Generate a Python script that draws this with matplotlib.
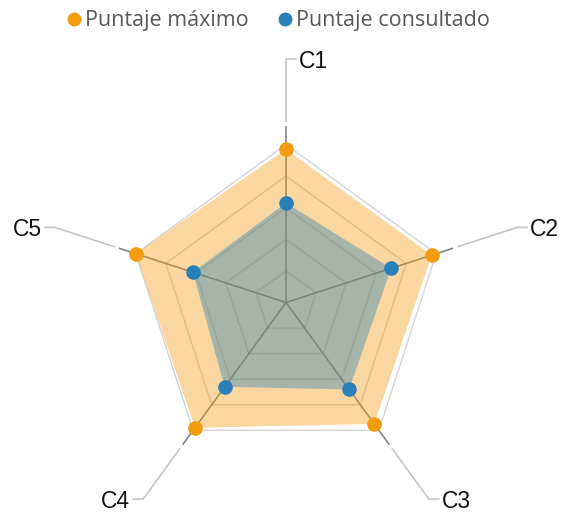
import numpy as np
import matplotlib
matplotlib.use("Agg")
import matplotlib.pyplot as plt
from matplotlib.lines import Line2D

categorias = ["C1", "C2", "C3", "C4", "C5"]
puntaje_maximo = [97, 97, 95, 98, 100]
puntaje_consultado = [63, 70, 68, 66, 62]
niveles = [20, 40, 60, 80, 100]
series = ["Puntaje máximo", "Puntaje consultado"]

NARANJA = "#f39c12"
AZUL = "#2980b9"


def _xy(valores, angulos):
    valores = np.asarray(valores, dtype=float)
    return valores * np.cos(angulos), valores * np.sin(angulos)


def radar(path="out.png"):
    figure = plt.figure(figsize=(5.64, 5.14), dpi=100)
    ax = figure.add_axes([0, 0, 1, 1])
    ax.set_axis_off()

    # pixel layout: centre at (286, 302.5), 1.58 px per unit
    escala = 1.58
    ax.set_xlim(-286 / escala, (564 - 286) / escala)
    ax.set_ylim(-(514 - 302.5) / escala, 302.5 / escala)
    ax.set_aspect("equal", adjustable="datalim")

    n = len(categorias)
    angulos = np.deg2rad(90 - 360.0 / n * np.arange(n))
    cerrado = np.append(angulos, angulos[0])

    for nivel in niveles:
        x, y = _xy([nivel] * (n + 1), cerrado)
        ax.plot(x, y, color="#d4d4d4", linewidth=1.0, zorder=1)

    fin_eje = niveles[-1] * 1.108
    for ang in angulos:
        x, y = _xy([0, fin_eje], ang)
        ax.plot(x, y, color="#858585", linewidth=1.2, zorder=2)

    for valores, color in ((puntaje_maximo, NARANJA), (puntaje_consultado, AZUL)):
        x, y = _xy(list(valores) + [valores[0]], cerrado)
        ax.fill(x, y, color=color, alpha=0.4, linewidth=0, zorder=3)
    for valores, color in ((puntaje_maximo, NARANJA), (puntaje_consultado, AZUL)):
        x, y = _xy(valores, angulos)
        ax.plot(x, y, linestyle="none", marker="o", markersize=10.5,
                color=color, markeredgewidth=0, zorder=5)

    # callout leaders and labels
    r0, r1, tramo = niveles[-1] * 1.146, niveles[-1] * 1.538, 6.3
    for etiqueta, ang in zip(categorias, angulos):
        x, y = _xy([r0, r1], ang)
        derecha = np.cos(ang) >= -1e-9
        signo = 1 if derecha else -1
        xs = [x[0], x[1], x[1] + signo * tramo]
        ys = [y[0], y[1], y[1]]
        ax.plot(xs, ys, color="#c4c4c4", linewidth=1.2, zorder=1)
        ax.text(xs[-1] + signo * 2.0, ys[-1], etiqueta,
                ha="left" if derecha else "right", va="center_baseline",
                fontsize=16.5, family="Liberation Sans", color="#111111")

    handles = [Line2D([], [], linestyle="none", marker="o", markersize=10,
                      color=c, markeredgewidth=0) for c in (NARANJA, AZUL)]
    figure.legend(handles, series, loc="upper center", ncol=2,
                  bbox_to_anchor=(0.49, 1.018), frameon=False,
                  handletextpad=0.0, columnspacing=1.2, handlelength=1.0,
                  prop={"family": "Open Sans", "size": 15.5},
                  labelcolor="#595959")

    figure.savefig(path, dpi=100)
    plt.close(figure)


radar()
